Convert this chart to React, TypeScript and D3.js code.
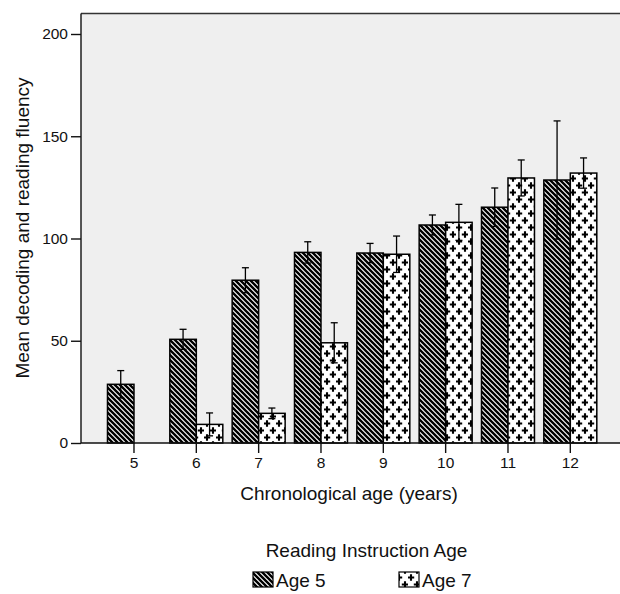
import React, { useEffect, useRef } from 'react';
import * as d3 from 'd3';

// Values
const ages = ['5', '6', '7', '8', '9', '10', '11', '12'];
const groups = ['Age 5', 'Age 7'];
const age5Means = [28.7, 50.7, 79.6, 93.2, 92.9, 106.6, 115.3, 128.6];
const age5Errors = [6.7, 4.9, 6.1, 5.2, 4.7, 4.9, 9.4, 28.9];
const age7Means: (number | null)[] = [null, 9.1, 14.5, 49.0, 92.3, 107.9, 129.6, 132.0];
const age7Errors: (number | null)[] = [null, 5.6, 2.6, 9.8, 8.9, 8.8, 8.8, 7.4];
const yTicks = [0, 50, 100, 150, 200];

const W = 620;
const H = 594;
const FONT = '"Liberation Sans", Arial, sans-serif';
const INK = '#111';

export default function App() {
  const xAxisRef = useRef<SVGGElement>(null);
  const yAxisRef = useRef<SVGGElement>(null);

  const plotLeft = 81;
  const plotRight = 623.3;
  const y = d3.scaleLinear().domain([0, 200]).range([443, 34]);
  const plotTop = y(210);
  const plotBottom = y(0);

  const x = d3.scaleBand<string>()
    .domain(ages)
    .range([plotLeft, plotRight])
    .paddingInner(0.15)
    .paddingOuter(0.425);
  const xs = d3.scaleBand<string>().domain(groups).range([0, x.bandwidth()]);

  useEffect(() => {
    if (!xAxisRef.current || !yAxisRef.current) return;
    const xa = d3.select(xAxisRef.current);
    xa.selectAll('*').remove();
    xa.call(d3.axisBottom(x).tickSize(10).tickSizeOuter(0).tickPadding(4));
    xa.select('.domain').remove();
    xa.selectAll('line').attr('stroke', INK).attr('stroke-width', 1.4);
    xa.selectAll('text').attr('fill', INK).attr('font-size', 15.5).attr('font-family', FONT);

    const ya = d3.select(yAxisRef.current);
    ya.selectAll('*').remove();
    ya.call(d3.axisLeft(y).tickValues(yTicks).tickSize(10).tickSizeOuter(0).tickPadding(3));
    ya.select('.domain').remove();
    ya.selectAll('line').attr('stroke', INK).attr('stroke-width', 1.4);
    ya.selectAll('text').attr('fill', INK).attr('font-size', 15.5).attr('font-family', FONT);
  }, []);

  const series = [
    { key: 'Age 5', means: age5Means as (number | null)[], errs: age5Errors as (number | null)[], fill: 'url(#stripes)' },
    { key: 'Age 7', means: age7Means, errs: age7Errors, fill: 'url(#pluses)' },
  ];

  const cap = 3.5;

  return (
    <svg width={W} height={H} style={{ position: 'absolute', left: 0, top: 0, background: '#fff' }}>
      <defs>
        <pattern id="stripes" patternUnits="userSpaceOnUse" width={5} height={5}>
          <rect width={5} height={5} fill="#fff" />
          <path d="M-1,-1L6,6M-1,4L1,6M4,-1L6,1" stroke="#000" strokeWidth={2.4} />
        </pattern>
        <pattern id="pluses" patternUnits="userSpaceOnUse" width={12} height={14}>
          <rect width={12} height={14} fill="#fff" />
          <path d="M3,0.3V6.7M-0.2,3.5H6.2M9,7.3V13.7M5.8,10.5H12.2" stroke="#000" strokeWidth={2.1} />
        </pattern>
      </defs>

      {/* plot background and frame */}
      <rect x={plotLeft} y={plotTop} width={plotRight - plotLeft} height={plotBottom - plotTop} fill="#efefef" />
      <line x1={plotLeft} x2={W} y1={plotTop} y2={plotTop} stroke="#333" strokeWidth={1.6} />
      <line x1={plotLeft} x2={plotLeft} y1={plotTop} y2={plotBottom} stroke={INK} strokeWidth={1.4} />

      {/* bars */}
      {series.map((s) => (
        <g key={s.key}>
          {ages.map((a, i) => {
            const v = s.means[i];
            if (v == null) return null;
            const bx = (x(a) ?? 0) + (xs(s.key) ?? 0);
            return (
              <rect key={a} x={bx} y={y(v)} width={xs.bandwidth()} height={y(0) - y(v)}
                fill={s.fill} stroke="#000" strokeWidth={1.5} />
            );
          })}
        </g>
      ))}

      {/* error bars */}
      {series.map((s) => (
        <g key={s.key + '-err'} stroke="#000" strokeWidth={1.3}>
          {ages.map((a, i) => {
            const v = s.means[i];
            const e = s.errs[i];
            if (v == null || e == null) return null;
            const cx = (x(a) ?? 0) + (xs(s.key) ?? 0) + xs.bandwidth() / 2;
            return (
              <g key={a}>
                <line x1={cx} x2={cx} y1={y(v - e)} y2={y(v + e)} />
                <line x1={cx - cap} x2={cx + cap} y1={y(v + e)} y2={y(v + e)} />
                <line x1={cx - cap} x2={cx + cap} y1={y(v - e)} y2={y(v - e)} />
              </g>
            );
          })}
        </g>
      ))}

      <line x1={plotLeft} x2={W} y1={plotBottom} y2={plotBottom} stroke={INK} strokeWidth={1.4} />
      <g ref={xAxisRef} transform={`translate(0,${plotBottom})`} />
      <g ref={yAxisRef} transform={`translate(${plotLeft},0)`} />

      {/* axis titles */}
      <text transform={`translate(28.5,${228}) rotate(-90)`} textAnchor="middle" fontFamily={FONT}
        fontSize={19} fill={INK}>Mean decoding and reading fluency</text>
      <text x={349} y={500} textAnchor="middle" fontFamily={FONT} fontSize={19} fill={INK}>
        Chronological age (years)
      </text>

      {/* legend */}
      <text x={366.5} y={557} textAnchor="middle" fontFamily={FONT} fontSize={19} fill={INK}>
        Reading Instruction Age
      </text>
      {series.map((s, i) => {
        const lx = 253 + i * 146;
        return (
          <g key={s.key + '-leg'}>
            <rect x={lx} y={572} width={20} height={15} fill={s.fill} stroke="#000" strokeWidth={1.2} />
            <text x={lx + 23} y={586.5} fontFamily={FONT} fontSize={19} fill={INK}>{s.key}</text>
          </g>
        );
      })}
    </svg>
  );
}
